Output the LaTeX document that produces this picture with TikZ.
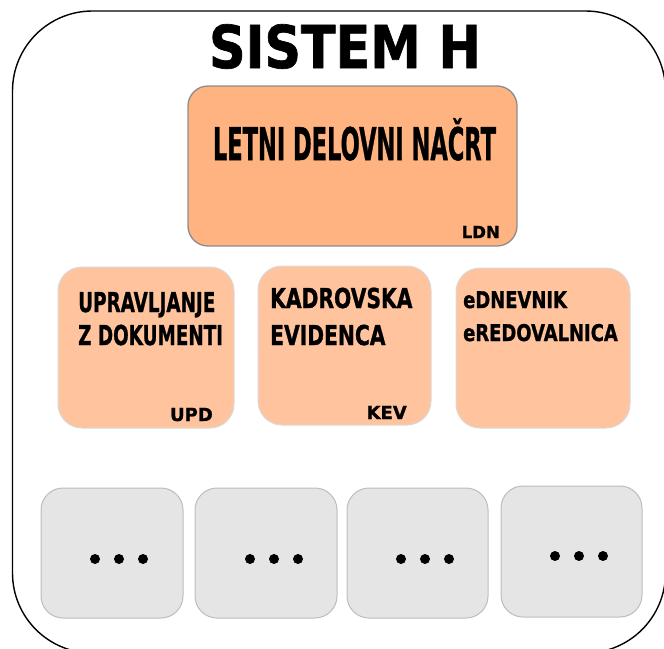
\documentclass[tikz,border=0pt]{standalone}
\usepackage{fontspec}
\setmainfont{DejaVu Sans}
\newfontfamily\heavy[FakeBold=1.2]{DejaVu Sans}
\usepackage{graphicx}
\definecolor{ldnfill}{HTML}{FFB380}
\definecolor{ldnline}{HTML}{8C8C8C}
\definecolor{midfill}{HTML}{FFC49D}
\definecolor{midline}{HTML}{D9D9D9}
\definecolor{grayfill}{HTML}{E5E5E5}
\definecolor{grayline}{HTML}{BDBDBD}
\newcommand{\sqz}[2]{\scalebox{#1}[1]{#2}}
\newcommand{\fs}[1]{\heavy\bfseries\fontsize{#1}{#1}\selectfont}
\tikzset{
  outerbox/.style={draw=black, line width=1.4pt, rounded corners=80pt},
  bigbox/.style={draw=ldnline, fill=ldnfill, line width=1.3pt, rounded corners=20pt},
  midbox/.style={draw=midline, fill=midfill, line width=1pt, rounded corners=24pt},
  graybox/.style={draw=grayline, fill=grayfill, line width=1pt, rounded corners=22pt},
  txt/.style={inner sep=0pt, anchor=base west},
  tag/.style={inner sep=0pt, anchor=base east},
  dotc/.style={fill=black, draw=none, circle, inner sep=0pt, minimum size=10pt}
}
\begin{document}
\begin{tikzpicture}[x=1pt, y=-1pt]
\useasboundingbox (0,0) rectangle (664,648);
% outer frame
\draw[outerbox] (12.5,11) rectangle (665.5,653);
% title
\node[inner sep=0pt, anchor=base] (title) at (345,68) {\fs{59}\sqz{0.86}{SISTEM H}};
% LDN
\node[bigbox, minimum width=329pt, minimum height=160pt, inner sep=0pt] (ldn) at (352.5,166) {};
\node[inner sep=0pt, anchor=base] (ldnt) at (354.5,160) {\fs{45}\sqz{0.5}{LETNI DELOVNI NAČRT}};
\node[tag] (ldnl) at (500,238) {\fs{16.5}LDN};
% row 2
\node[midbox, minimum width=176pt, minimum height=161pt, inner sep=0pt] (upd) at (146,347.5) {};
\node[midbox, minimum width=173pt, minimum height=159pt, inner sep=0pt] (kev) at (344.5,345.5) {};
\node[midbox, minimum width=174pt, minimum height=160pt, inner sep=0pt] (edn) at (543,348) {};
\node[txt] (upd1) at (78,312) {\fs{27.4}\sqz{0.67}{UPRAVLJANJE}};
\node[txt] (upd2) at (78,345) {\fs{27.4}\sqz{0.67}{Z DOKUMENTI}};
\node[tag] (updl) at (213,421) {\fs{18}UPD};
\node[txt] (kev1) at (270,308) {\fs{27.4}\sqz{0.74}{KADROVSKA}};
\node[txt] (kev2) at (270,345) {\fs{27.4}\sqz{0.74}{EVIDENCA}};
\node[tag] (kevl) at (407,419) {\fs{18}KEV};
\node[txt] (edn1) at (463,308) {\fs{23}\sqz{0.78}{eDNEVNIK}};
\node[txt] (edn2) at (463,341) {\fs{23}\sqz{0.78}{eREDOVALNICA}};
% row 3
\node[graybox, minimum width=142pt, minimum height=130pt, inner sep=0pt] (g1) at (112,553) {};
\node[graybox, minimum width=142pt, minimum height=130pt, inner sep=0pt] (g2) at (266,553) {};
\node[graybox, minimum width=141pt, minimum height=130pt, inner sep=0pt] (g3) at (417.5,553) {};
\node[graybox, minimum width=141pt, minimum height=131pt, inner sep=0pt] (g4) at (571.5,551.5) {};
\foreach \cx/\cy [count=\i] in {119/559, 274/559, 425/559, 579/556} {
  \node[dotc] (d\i a) at (\cx-24,\cy) {};
  \node[dotc] (d\i b) at (\cx,\cy) {};
  \node[dotc] (d\i c) at (\cx+24,\cy) {};
}
\end{tikzpicture}
\end{document}
